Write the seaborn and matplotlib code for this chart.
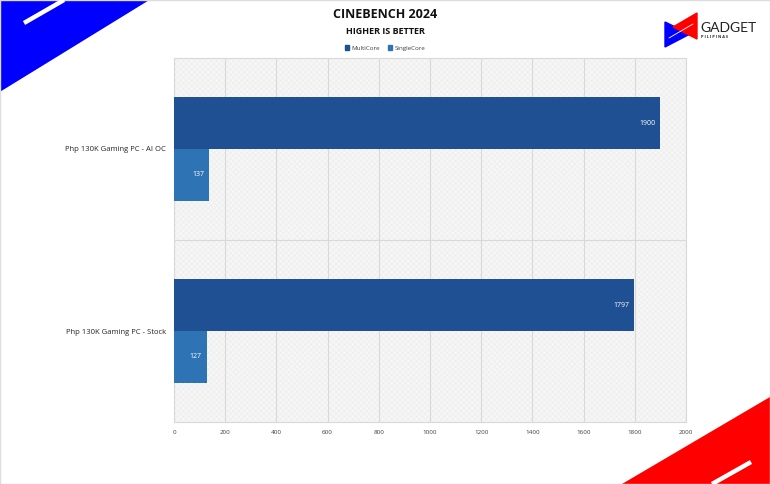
import matplotlib
matplotlib.use("Agg")
import matplotlib.pyplot as plt
import seaborn as sns
import pandas as pd
from matplotlib.patches import Polygon, Rectangle
from matplotlib.lines import Line2D

systems = ["Php 130K Gaming PC - AI OC", "Php 130K Gaming PC - Stock"]
series = ["MultiCore", "SingleCore"]
multicore = [1900, 1797]
singlecore = [137, 127]
xticks = [0, 200, 400, 600, 800, 1000, 1200, 1400, 1600, 1800, 2000]
colors = ["#1F5093", "#2E74B5"]

df = pd.DataFrame({
    "System": systems * 2,
    "Series": [series[0]] * 2 + [series[1]] * 2,
    "Score": multicore + singlecore,
})

sns.set_theme(style="white")
plt.rcParams["font.family"] = ["Open Sans", "DejaVu Sans"]
plt.rcParams["hatch.linewidth"] = 0.3

W, H = 770, 484
fig = plt.figure(figsize=(W / 100, H / 100), dpi=100)
fig.patch.set_facecolor("white")

def px(x, y):
    return (x / W, 1 - y / H)

ax = fig.add_axes([174 / W, (H - 422) / H, 512 / W, 364 / H])
ax.set_facecolor("#f6f6f6")
ax.add_patch(Rectangle((0, 0), 1, 1, transform=ax.transAxes, facecolor="none",
                       edgecolor="#e9e9e9", hatch="xxxxxx", linewidth=0, zorder=0))

sns.barplot(data=df, y="System", x="Score", hue="Series", order=systems,
            hue_order=series, palette=colors, orient="h", width=0.57,
            saturation=1, ax=ax, legend=False, zorder=3, linewidth=0)

for cont in ax.containers:
    for bar, v in zip(cont.patches, cont.datavalues):
        ax.annotate(f"{int(v)}", xy=(bar.get_x() + bar.get_width(), bar.get_y() + bar.get_height() / 2),
                    xytext=(-3.5, 0), textcoords="offset points", ha="right", va="center",
                    color="white", fontsize=5, zorder=4)

ax.set_xlim(0, 2000)
ax.set_ylim(1.5, -0.5)
ax.set_xticks(xticks)
ax.set_xticklabels([str(t) for t in xticks], fontsize=4.5, color="#404040")
ax.tick_params(axis="x", length=0, pad=6)
ax.tick_params(axis="y", length=0, pad=6, labelsize=5.5, labelcolor="#262626")
ax.set_xlabel("")
ax.set_ylabel("")
ax.grid(axis="x", color="#d9d9d9", linewidth=0.8, zorder=1)
ax.axhline(0.5, color="#d9d9d9", linewidth=0.8, zorder=1)
ax.set_axisbelow(True)
for s in ax.spines.values():
    s.set_color("#d9d9d9")
    s.set_linewidth(0.8)

# Title & subtitle
fig.text(*px(385, 15), "CINEBENCH 2024", ha="center", va="center",
         fontsize=9, fontweight="bold", color="#111111")
fig.text(*px(385, 31), "HIGHER IS BETTER", ha="center", va="center",
         fontsize=6.5, fontweight="bold", color="#111111")

# Legend
handles = [Rectangle((0, 0), 1, 1, color=c) for c in colors]
fig.legend(handles, series, loc="center", bbox_to_anchor=px(385, 48),
           ncol=2, frameon=False, fontsize=4.5, handlelength=0.7, handleheight=0.7,
           handletextpad=0.4, columnspacing=1.2, labelcolor="#404040")

# Decorations
fig.patches.append(Polygon([px(0, 0), px(148, 0), px(0, 91)], closed=True,
                           transform=fig.transFigure, color="#0000FF", zorder=0))
fig.lines.append(Line2D([24 / W, 64 / W], [1 - 23 / H, 1 - 0 / H], transform=fig.transFigure,
                        color="white", linewidth=3.2, solid_capstyle="butt"))
fig.patches.append(Polygon([px(770, 397), px(770, 484), px(622, 484)], closed=True,
                           transform=fig.transFigure, color="#FF0000", zorder=0))
fig.lines.append(Line2D([751 / W, 712 / W], [1 - 462 / H, 1 - 484 / H], transform=fig.transFigure,
                        color="white", linewidth=3.2, solid_capstyle="butt"))

# Logo
fig.patches.append(Polygon([px(665, 22), px(665, 47), px(690, 34)], closed=True,
                           transform=fig.transFigure, color="#0000FF"))
fig.patches.append(Polygon([px(697, 13), px(697, 39), px(673, 27)], closed=True,
                           transform=fig.transFigure, color="#FF0000"))
fig.lines.append(Line2D([669 / W, 693 / W], [1 - 38 / H, 1 - 24 / H], transform=fig.transFigure,
                        color="white", linewidth=0.6))
fig.text(*px(700, 28), "GADGET", ha="left", va="center", fontsize=10,
         color="#222222", family=["Lato", "DejaVu Sans"])
fig.text(*px(701, 37), "P I L I P I N A S", ha="left", va="center", fontsize=2.8,
         color="#222222", fontweight="bold")

# Frame
fig.patches.append(Rectangle((0, 0), 1, 1, transform=fig.transFigure, fill=False,
                             edgecolor="#dddddd", linewidth=1))

fig.savefig("out.png", dpi=100)
